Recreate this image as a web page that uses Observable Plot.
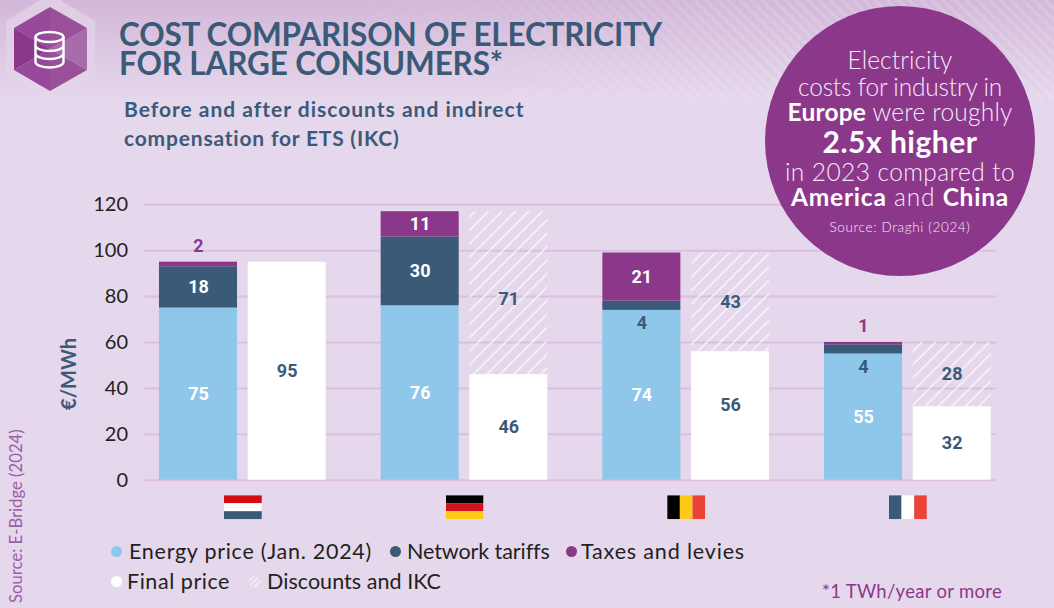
<!DOCTYPE html>
<html><head><meta charset="utf-8">
<script src="https://cdn.jsdelivr.net/npm/d3@7"></script>
<script src="https://cdn.jsdelivr.net/npm/@observablehq/plot@0.6"></script>
<style>
html,body{margin:0;padding:0;width:1054px;height:608px;overflow:hidden;background:#e5d7ec;font-family:Lato,sans-serif}
#wrap{position:relative;width:1054px;height:608px;overflow:hidden}
#wash{position:absolute;left:0;top:0;width:1054px;height:100px;background:linear-gradient(to bottom,#d3b8d9,#e5d7ec)}
#stripes{position:absolute;left:0;top:0;width:1054px;height:100px;background:repeating-linear-gradient(45deg,rgba(255,255,255,.13) 0 3.5px,rgba(255,255,255,0) 3.5px 8px);-webkit-mask-image:linear-gradient(to right,transparent 30%,black 75%)}
#chart{position:absolute;left:0;top:0}
.t{position:absolute;white-space:nowrap;line-height:1}
.tt{font-weight:700;color:#3b5a78;font-size:31.5px;line-height:29px}
.st{font-weight:700;color:#3b5a78;font-size:21px}
.lg{color:#231f20;font-size:21.5px}
.dot{position:absolute;width:11px;height:11px;border-radius:50%}
#circle{position:absolute;left:765px;top:6px;width:270px;height:270px;border-radius:50%;background:#8b388b}
#ctext{left:765px;top:46px;width:270px;text-align:center;color:#f6eaf6;font-size:24.5px;font-weight:300;line-height:27px}
#ctext span{position:relative}
#ctext b{font-weight:700;color:#fff}
svg.over{position:absolute}
</style></head><body>
<div id="wrap">
<div id="wash"></div><div id="stripes"></div>
<div id="chart"></div>
<svg class="over" style="left:0;top:0" width="110" height="100" viewBox="0 0 110 100">
<defs><linearGradient id="halo" x1="0" y1="0" x2="0" y2="1"><stop offset="0" stop-color="#fff" stop-opacity=".32"/><stop offset="1" stop-color="#fff" stop-opacity="0"/></linearGradient></defs>
<polygon points="50,-6 95,21 95,76 50,100 6,76 6,21" fill="url(#halo)"/>
<polygon points="50,49 50,7 14,28" fill="#96489a"/><polygon points="50,49 14,28 14,70" fill="#8b388b"/>
<polygon points="50,49 14,70 50,91" fill="#96489a"/><polygon points="50,49 50,91 87,70" fill="#9a5098"/>
<polygon points="50,49 87,70 87,28" fill="#a76ca9"/><polygon points="50,49 87,28 50,7" fill="#9a5098"/>
<g fill="none" stroke="#fff" stroke-width="2.4">
<ellipse cx="49.5" cy="37" rx="14" ry="5"/>
<path d="M35.5 37V62C35.5 65 42 67.5 49.5 67.5S63.5 65 63.5 62V37"/>
<path d="M35.5 45.5C35.5 48.5 42 51 49.5 51S63.5 48.5 63.5 45.5"/>
<path d="M35.5 53.5C35.5 56.5 42 59 49.5 59S63.5 56.5 63.5 53.5"/>
</g></svg>
<div class="t tt" style="left:119px;top:20px"><span data-w="543">COST COMPARISON OF ELECTRICITY</span><br><span data-w="384">FOR LARGE CONSUMERS*</span></div>
<div class="t st" style="left:124px;top:98px"><span data-w="400">Before and after discounts and indirect</span></div>
<div class="t st" style="left:124px;top:127px"><span data-w="276">compensation for ETS (IKC)</span></div>
<div id="circle"></div>
<div class="t" id="ctext"><span data-w="105">Electricity</span><br><span data-w="204">costs for industry in</span><br><span data-w="225" style="top:-2px"><b>Europe</b> were roughly</span><br><span data-w="155" style="top:1px;font-size:30px"><b>2.5x higher</b></span><br><span data-w="230" style="top:2px">in 2023 compared to</span><br><span data-w="218" style="top:0"><b>America</b> and <b>China</b></span><br><span data-w="141" style="top:-1.5px;font-size:13.5px">Source: Draghi (2024)</span></div>
<div class="dot" style="left:111px;top:546px;background:#8fc7ea"></div>
<div class="t lg" style="left:129px;top:541px"><span data-w="243">Energy price (Jan. 2024)</span></div>
<div class="dot" style="left:390px;top:546px;background:#3b5a78"></div>
<div class="t lg" style="left:407px;top:541px"><span data-w="142">Network tariffs</span></div>
<div class="dot" style="left:566px;top:546px;background:#8b388b"></div>
<div class="t lg" style="left:581px;top:541px"><span data-w="164">Taxes and levies</span></div>
<div class="dot" style="left:111px;top:576px;background:#fff"></div>
<div class="t lg" style="left:127px;top:571px"><span data-w="103">Final price</span></div>
<svg class="over" style="left:248px;top:575px" width="13" height="13"><defs><pattern id="hatchKey" width="4" height="4" patternUnits="userSpaceOnUse" patternTransform="rotate(45)"><rect width="1.6" height="4" fill="#fff" opacity=".6"/></pattern></defs><circle cx="6.5" cy="6.5" r="6" fill="url(#hatchKey)"/></svg>
<div class="t lg" style="left:267px;top:571px"><span data-w="174">Discounts and IKC</span></div>
<div class="t" style="left:822px;top:582px;font-size:18.5px;color:#8b388b"><span data-w="180">*1 TWh/year or more</span></div>
<div class="t" id="src" style="left:8px;top:603px;font-size:16.7px;color:#9c5fa8;transform-origin:0 0;transform:rotate(-90deg)">Source: E-Bridge (2024)</div>
</div>
<script>
const countries = ["Netherlands", "Germany", "Belgium", "France"];
const energyPrice = [75, 76, 74, 55];
const networkTariffs = [18, 30, 4, 4];
const taxesLevies = [2, 11, 21, 1];
const finalPrice = [95, 46, 56, 32];
const discountsIkc = [0, 71, 43, 28];
const yTicks = [0, 20, 40, 60, 80, 100, 120];
const flagBands = {
  Netherlands: {dir: "h", colors: ["#d50c14", "#ffffff", "#3b5a78"]},
  Germany: {dir: "h", colors: ["#000000", "#d2121b", "#fdcb17"]},
  Belgium: {dir: "v", colors: ["#000000", "#fdcb17", "#ea4439"]},
  France: {dir: "v", colors: ["#3b5a78", "#ffffff", "#ea4439"]}
};
const seriesNames = ["Energy price", "Network tariffs", "Taxes and levies", "Final price", "Discounts and IKC"];
const seriesFills = ["#8fc7ea", "#3b5a78", "#8b388b", "#ffffff", "url(#hatch)"];

const barW = 0.352, gap = 0.024;
const rows = [];
countries.forEach((c, i) => {
  const add = (series, base, v, col, lab, ink) => {
    if (v > 0) rows.push({country: c, series, y1: base, y2: base + v, value: v, x1: col ? i + gap : i - gap - barW, x2: col ? i + gap + barW : i - gap, labelY: lab, ink});
  };
  const e = energyPrice[i], n = networkTariffs[i], t = taxesLevies[i], f = finalPrice[i], d = discountsIkc[i];
  add(seriesNames[0], 0, e, 0, e / 2, "#ffffff");
  add(seriesNames[1], e, n, 0, n <= 4 ? e - 5.6 : e + n / 2, n <= 4 ? "#3b5a78" : "#ffffff");
  add(seriesNames[2], e + n, t, 0, t <= 2 ? e + n + t + 7 : e + n + t / 2, t <= 2 ? "#8b388b" : "#ffffff");
  add(seriesNames[3], 0, f, 1, f === 56 ? 32.7 : f / 2, "#3b5a78");
  add(seriesNames[4], f, d, 1, d === 71 ? 78.7 : f + d / 2, "#3b5a78");
});

const flagUri = name => {
  const {dir, colors} = flagBands[name];
  const parts = colors.map((c, k) => dir === "h"
    ? `<rect x='0' y='${k * 8}' width='38' height='8' fill='${c}'/>`
    : `<rect x='${k * 38 / 3}' y='0' width='${38 / 3}' height='24' fill='${c}'/>`).join("");
  return "data:image/svg+xml," + encodeURIComponent(`<svg xmlns='http://www.w3.org/2000/svg' width='38' height='24' viewBox='0 0 38 24'>${parts}</svg>`);
};
const flags = countries.map((c, i) => ({index: i, src: flagUri(c), base: 0}));

const hatchDefs = () => {
  const d = d3.create("svg:defs");
  const p = d.append("pattern").attr("id", "hatch").attr("width", 9.5).attr("height", 9.5)
    .attr("patternUnits", "userSpaceOnUse").attr("patternTransform", "rotate(45)");
  p.append("rect").attr("width", 1.6).attr("height", 9.5).attr("fill", "#ffffff").attr("opacity", 0.7);
  return d.node();
};

const chart = Plot.plot({
  width: 1054, height: 608,
  marginLeft: 131.5, marginRight: 35.8, marginTop: 204.3, marginBottom: 128.3,
  style: {background: "transparent", overflow: "visible"},
  x: {domain: [-0.5, 3.5], axis: null},
  y: {domain: [0, 120]},
  color: {type: "ordinal", domain: seriesNames, range: seriesFills},
  marks: [
    hatchDefs,
    Plot.ruleY(yTicks, {x1: -0.4435, x2: 3.4, stroke: "#dcbfdf", strokeWidth: 2}),
    Plot.axisY({ticks: yTicks, tickSize: 0, tickPadding: 4, label: null, fontSize: 20, fontFamily: "Lato", fill: "#231f20", tickFormat: d => String(d)}),
    Plot.rectY(rows, {x1: "x1", x2: "x2", y1: "y1", y2: "y2", fill: "series"}),
    Plot.text(rows, {x: d => (d.x1 + d.x2) / 2, y: "labelY", text: d => String(d.value), fill: "ink", fontSize: 18, fontWeight: 700, fontFamily: "Roboto"}),
    Plot.image(flags, {x: "index", y: "base", src: "src", width: 38, height: 24, dy: 27}),
    Plot.text(["€/MWh"], {y: 46.3, frameAnchor: "left", textAnchor: "middle", dx: -62.5, rotate: -90, fill: "#3b5a78", fontSize: 20, fontWeight: 700, fontFamily: "Lato"})
  ]
});
chart.style.background = "transparent";
document.getElementById("chart").appendChild(chart);

document.querySelectorAll("[data-w]").forEach(el => {
  const chars = el.textContent.length;
  const w = el.getBoundingClientRect().width;
  el.style.letterSpacing = ((+el.dataset.w - w) / chars).toFixed(3) + "px";
});
</script>
</body></html>
